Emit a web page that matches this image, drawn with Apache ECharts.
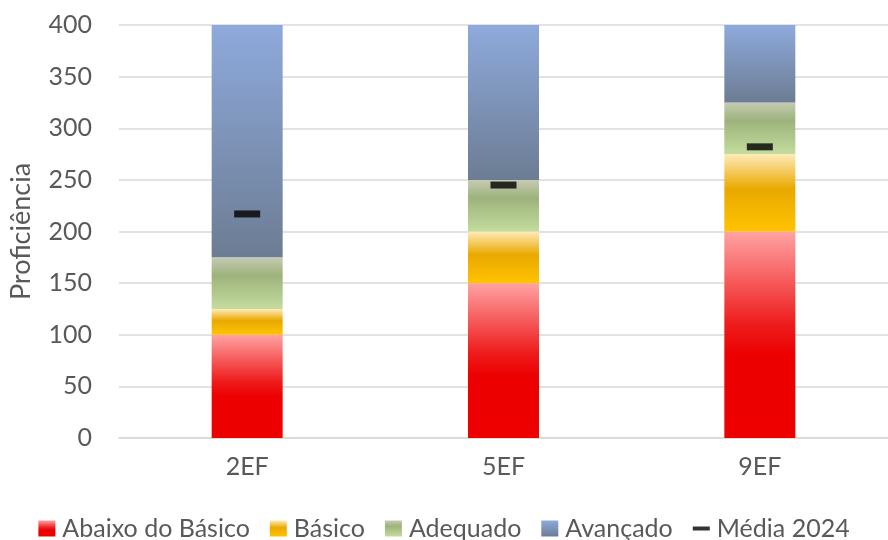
<!DOCTYPE html>
<html><head><meta charset="utf-8">
<script src="https://cdn.jsdelivr.net/npm/echarts@6/dist/echarts.min.js"></script>
<style>html,body{margin:0;padding:0;background:#fff}#c{width:888px;height:540px}</style>
</head><body><div id="c"></div>
<script>
const categories = ['2EF', '5EF', '9EF'];
const abaixo = [100, 150, 200];
const basico = [25, 50, 75];
const adequado = [50, 50, 50];
const avancado = [225, 150, 75];
const media2024 = [217, 245, 282];
const yTicks = { min: 0, max: 400, interval: 50 };

function grad(stops) {
  return { type: 'linear', x: 0, y: 0, x2: 0, y2: 1,
    colorStops: stops.map(s => ({ offset: s[0], color: s[1] })) };
}
const font = 'Lato, "Open Sans", sans-serif';
const chart = echarts.init(document.getElementById('c'));
const barW = 71;
chart.setOption({
  animation: false,
  grid: { left: 117, right: 0, top: 25, bottom: 102 },
  legend: {
    top: 511, left: 'center', itemWidth: 17, itemHeight: 16, itemGap: 20,
    textStyle: { fontFamily: font, fontSize: 25, color: '#595959', padding: [0, 0, 0, 2] },
    data: [
      { name: 'Abaixo do Básico', icon: 'rect' },
      { name: 'Básico', icon: 'rect' },
      { name: 'Adequado', icon: 'rect' },
      { name: 'Avançado', icon: 'rect' },
      { name: 'Média 2024', icon: 'path://M0,0 L17,0 L17,4 L0,4 Z', itemStyle: { color: '#000' } }
    ]
  },
  xAxis: {
    type: 'category', data: categories,
    axisLine: { lineStyle: { color: '#D9D9D9', width: 1.5 } },
    axisTick: { show: false },
    axisLabel: { fontFamily: font, fontSize: 25, color: '#595959', margin: 16 }
  },
  yAxis: {
    type: 'value', min: yTicks.min, max: yTicks.max, interval: yTicks.interval,
    name: 'Proficiência', nameLocation: 'middle', nameGap: 84,
    nameTextStyle: { fontFamily: font, fontSize: 27, color: '#595959' },
    axisLine: { show: false }, axisTick: { show: false },
    axisLabel: { fontFamily: font, fontSize: 25, color: '#595959', margin: 27 },
    splitLine: { lineStyle: { color: '#D9D9D9', width: 1.5 } }
  },
  series: [
    { name: 'Abaixo do Básico', type: 'bar', stack: 'p', barWidth: barW, data: abaixo,
      itemStyle: { color: grad([[0, '#FFA3A3'], [0.45, '#EE1C1C'], [0.6, '#EC0000'], [1, '#EE0000']]) } },
    { name: 'Básico', type: 'bar', stack: 'p', barWidth: barW, data: basico,
      itemStyle: { color: grad([[0, '#FFEBB8'], [0.45, '#E9A900'], [1, '#FFC300']]) } },
    { name: 'Adequado', type: 'bar', stack: 'p', barWidth: barW, data: adequado,
      itemStyle: { color: grad([[0, '#C6CBB4'], [0.35, '#9DB37C'], [1, '#C4DC9D']]) } },
    { name: 'Avançado', type: 'bar', stack: 'p', barWidth: barW, data: avancado,
      itemStyle: { color: grad([[0, '#8EAADC'], [1, '#6C7C93']]) } },
    { name: 'Média 2024', type: 'scatter', symbol: 'rect', symbolSize: [26, 7], data: media2024,
      itemStyle: { color: '#000' }, z: 5 }
  ]
});
</script></body></html>
